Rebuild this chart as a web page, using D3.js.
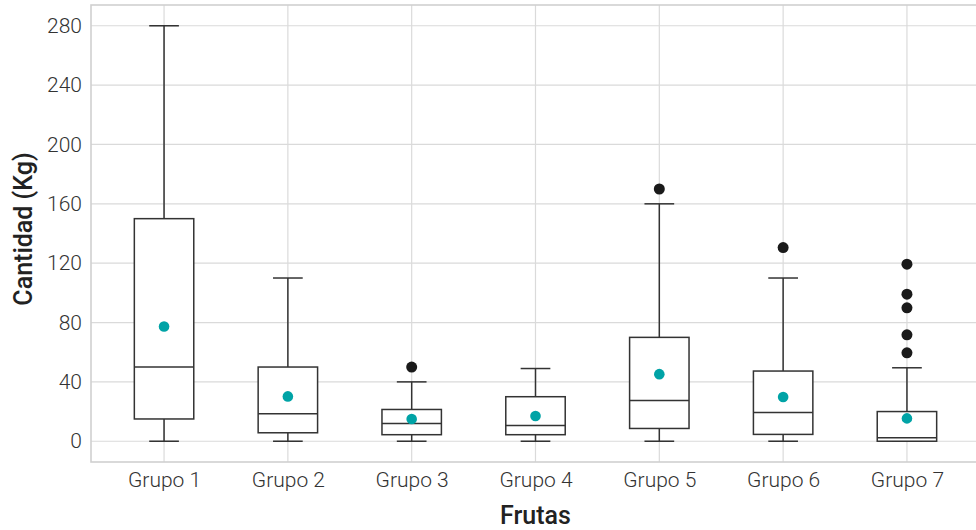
<!DOCTYPE html>
<html>
<head>
<meta charset="utf-8">
<script src="https://cdn.jsdelivr.net/npm/d3@7"></script>
<style>
  html, body { margin: 0; padding: 0; background: #fff; }
  svg { display: block; font-family: Roboto, "Noto Sans", sans-serif; }
</style>
</head>
<body>
<svg id="chart" width="976" height="530"></svg>
<script>
// Box-plot summaries per group (Kg)
const groups   = ["Grupo 1", "Grupo 2", "Grupo 3", "Grupo 4", "Grupo 5", "Grupo 6", "Grupo 7"];
const lowWhisk = [0, 0, 0, 0, 0, 0, 0];
const q1       = [15, 5.7, 4.4, 4.4, 8.6, 4.6, 0];
const medians  = [50, 18.5, 12, 10.6, 27.5, 19.4, 2.4];
const q3       = [150, 50, 21.4, 30, 70, 47.3, 20];
const highWhisk= [280, 110, 40, 49, 160, 110, 49.5];
const means    = [77.3, 30.2, 15, 17, 45.2, 29.8, 15.4];
const outliers = [[], [], [50], [], [170], [130.5], [119.3, 99.1, 89.9, 71.7, 59.6]];
const yTicks   = [0, 40, 80, 120, 160, 200, 240, 280];

const svg = d3.select("#chart");
const plot = { left: 91, right: 980, top: 5, bottom: 462 };

const x = d3.scalePoint().domain(groups)
  .range([plot.left, plot.right]).padding(0.59);
const step = x.step();
const y = d3.scaleLinear().domain([-14, 294]).range([plot.bottom, plot.top]);

// Panel grid
const grid = svg.append("g");
grid.selectAll("line.h").data(yTicks).join("line")
  .attr("x1", plot.left).attr("x2", plot.right)
  .attr("y1", d => y(d)).attr("y2", d => y(d))
  .attr("stroke", "#dadada").attr("stroke-width", 1.2);
grid.selectAll("line.v").data(groups).join("line")
  .attr("x1", d => x(d)).attr("x2", d => x(d))
  .attr("y1", plot.top).attr("y2", plot.bottom)
  .attr("stroke", "#dadada").attr("stroke-width", 1.2);

// Panel border
svg.append("rect")
  .attr("x", plot.left).attr("y", plot.top)
  .attr("width", plot.right - plot.left).attr("height", plot.bottom - plot.top)
  .attr("fill", "none").attr("stroke", "#d0d0d0").attr("stroke-width", 1.6);

// Axes (labels only, no tick marks)
const yAxis = svg.append("g")
  .attr("transform", `translate(${plot.left},0)`)
  .call(d3.axisLeft(y).tickValues(yTicks).tickSize(0).tickPadding(9));
yAxis.select(".domain").remove();
yAxis.selectAll("text")
  .attr("font-size", 21).attr("font-weight", 300).attr("fill", "#333")
  .attr("font-family", "Roboto, sans-serif");

const xAxis = svg.append("g")
  .attr("transform", `translate(0,${plot.bottom})`)
  .call(d3.axisBottom(x).tickSize(0).tickPadding(10));
xAxis.select(".domain").remove();
xAxis.selectAll("text")
  .attr("font-size", 21).attr("font-weight", 300).attr("fill", "#333")
  .attr("font-family", "Roboto, sans-serif");

// Axis titles
svg.append("text")
  .attr("x", (plot.left + plot.right) / 2).attr("y", 524)
  .attr("text-anchor", "middle")
  .attr("font-size", 25).attr("font-weight", 500).attr("fill", "#222")
  .text("Frutas");
svg.append("text")
  .attr("transform", `translate(32,229) rotate(-90)`)
  .attr("text-anchor", "middle")
  .attr("font-size", 25).attr("font-weight", 500).attr("fill", "#222")
  .text("Cantidad (Kg)");

// Boxes
const boxW = step * 0.48;
const capW = step * 0.24;
const data = groups.map((g, i) => ({
  g, lo: lowWhisk[i], q1: q1[i], med: medians[i], q3: q3[i], hi: highWhisk[i],
  mean: means[i], out: outliers[i]
}));

const box = svg.append("g").selectAll("g").data(data).join("g")
  .attr("stroke", "#333").attr("stroke-width", 1.5);

// whiskers
box.append("line")
  .attr("x1", d => x(d.g)).attr("x2", d => x(d.g))
  .attr("y1", d => y(d.hi)).attr("y2", d => y(d.q3));
box.append("line")
  .attr("x1", d => x(d.g)).attr("x2", d => x(d.g))
  .attr("y1", d => y(d.q1)).attr("y2", d => y(d.lo));
// caps
box.append("line")
  .attr("x1", d => x(d.g) - capW / 2).attr("x2", d => x(d.g) + capW / 2)
  .attr("y1", d => y(d.hi)).attr("y2", d => y(d.hi));
box.append("line")
  .attr("x1", d => x(d.g) - capW / 2).attr("x2", d => x(d.g) + capW / 2)
  .attr("y1", d => y(d.lo)).attr("y2", d => y(d.lo));
// box
box.append("rect")
  .attr("x", d => x(d.g) - boxW / 2).attr("width", boxW)
  .attr("y", d => y(d.q3)).attr("height", d => y(d.q1) - y(d.q3))
  .attr("fill", "#fff");
// median
box.append("line")
  .attr("x1", d => x(d.g) - boxW / 2).attr("x2", d => x(d.g) + boxW / 2)
  .attr("y1", d => y(d.med)).attr("y2", d => y(d.med));

// outliers
box.each(function(d) {
  d3.select(this).selectAll("circle.out").data(d.out).join("circle")
    .attr("class", "out")
    .attr("cx", x(d.g)).attr("cy", v => y(v)).attr("r", 5.5)
    .attr("fill", "#1a1a1a").attr("stroke", "none");
});

// means
svg.append("g").selectAll("circle").data(data).join("circle")
  .attr("cx", d => x(d.g)).attr("cy", d => y(d.mean)).attr("r", 5.3)
  .attr("fill", "#00a3a6");
</script>
</body>
</html>
